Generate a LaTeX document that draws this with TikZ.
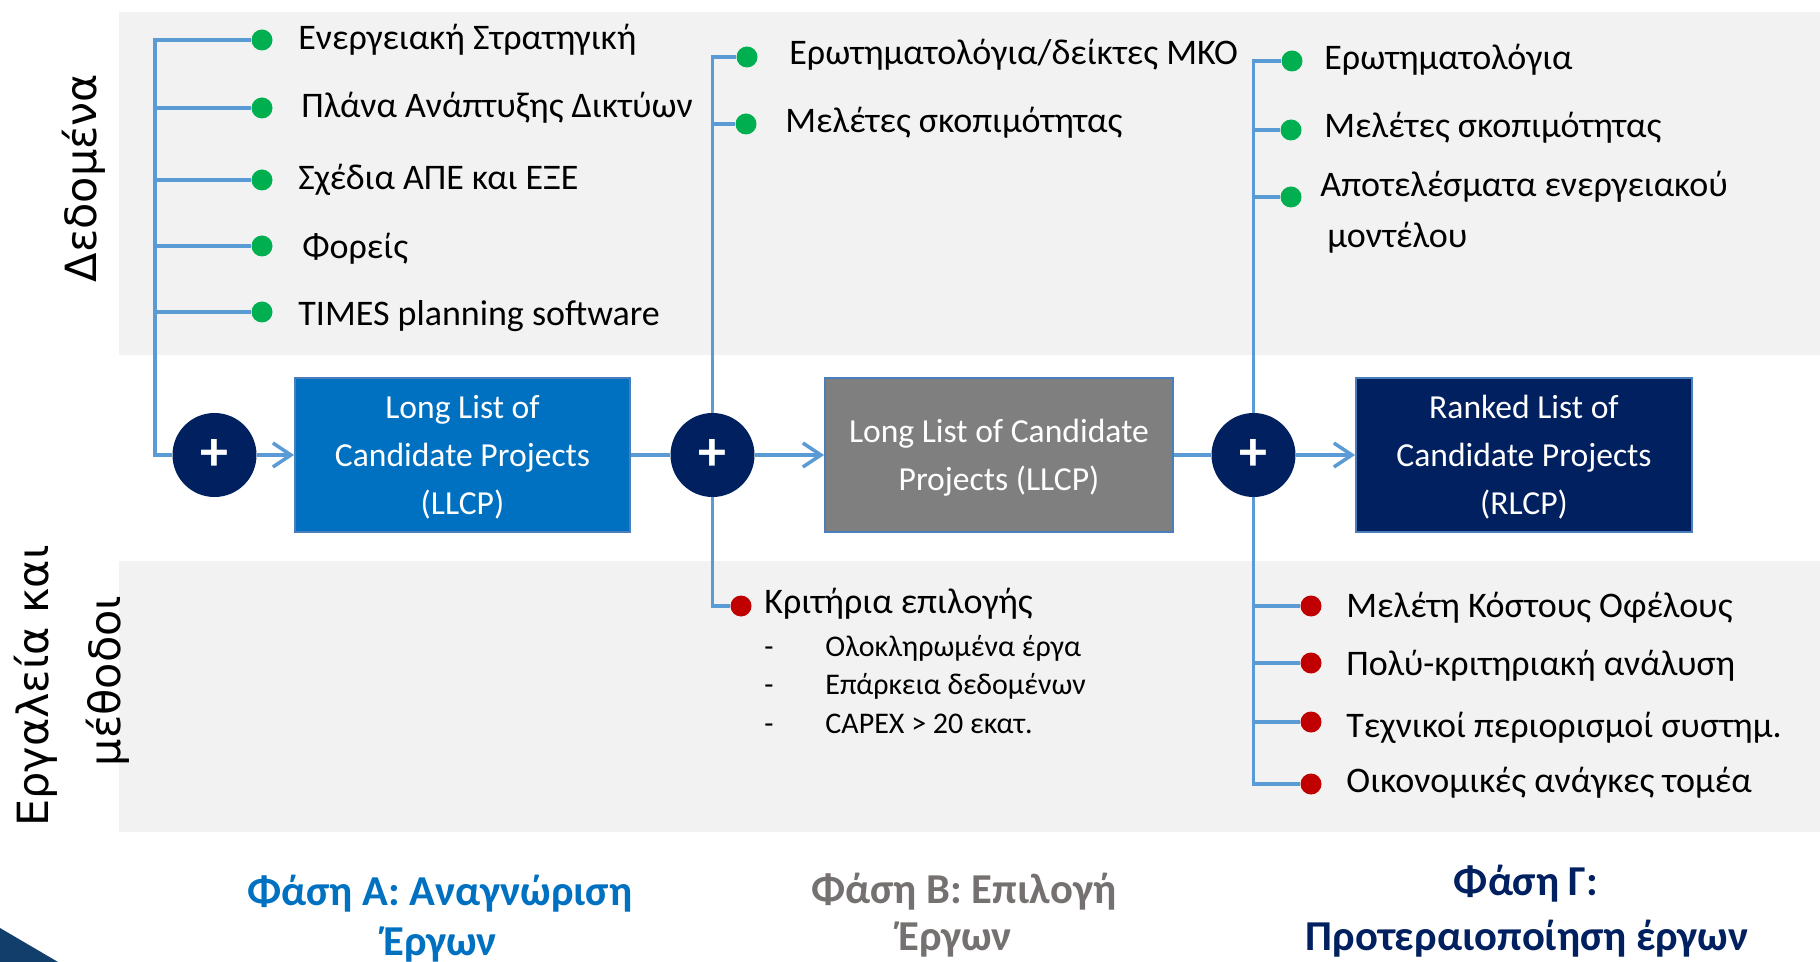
\documentclass[tikz,border=0pt]{standalone}
\usepackage{fontspec}
\setmainfont{Carlito}
\newfontfamily\dejavu{DejaVu Sans}
\usetikzlibrary{arrows.meta}
\definecolor{band}{HTML}{F2F2F2}
\definecolor{lineblue}{HTML}{5B9BD5}
\definecolor{dotgreen}{HTML}{00B050}
\definecolor{dotred}{HTML}{C00000}
\definecolor{navy}{HTML}{002060}
\definecolor{boxblue}{HTML}{0070C0}
\definecolor{boxgray}{HTML}{7F7F7F}
\definecolor{boxedge}{HTML}{4A7EBB}
\definecolor{phasegray}{HTML}{767171}
\definecolor{cornerblue}{HTML}{123E6C}
\begin{document}
\begin{tikzpicture}[x=0.5pt,y=-0.5pt,
  conn/.style={draw=lineblue, line width=1.75pt},
  arr/.style={conn, -{Straight Barb[length=9pt,width=12pt]}},
  gdot/.style={circle, fill=dotgreen, minimum size=10.5pt, inner sep=0pt},
  rdot/.style={circle, fill=dotred, minimum size=10.5pt, inner sep=0pt},
  item/.style={anchor=base west, inner sep=0pt, font=\fontsize{18}{21}\selectfont},
  subitem/.style={anchor=base west, inner sep=0pt, font=\fontsize{15}{18}\selectfont},
  plus/.style={circle, fill=navy, minimum size=42pt, inner sep=0pt, text=white, font=\fontsize{28}{28}\selectfont\bfseries},
  box/.style={draw=boxedge, line width=1pt, align=center, text=white, inner sep=0pt, text depth=0pt, font=\fontsize{16.8}{24}\selectfont},
  side/.style={rotate=90, anchor=base, inner sep=0pt, font=\dejavu\fontsize{21.5}{26}\selectfont},
  phase/.style={anchor=base, inner sep=0pt, font=\fontsize{21.3}{24}\selectfont\bfseries},
]
\useasboundingbox (0,0) rectangle (1820,962);
\fill[white] (0,0) rectangle (1820,962);
\fill[band] (119,12) rectangle (1820,355);
\fill[band] (119,561) rectangle (1820,832);
\fill[cornerblue] (0,928) -- (58,962) -- (0,962) -- cycle;

% main flow nodes
\node[plus] (c1) at (214.5,455) {+};
\node[plus] (c2) at (712.5,455) {+};
\node[plus] (c3) at (1253.5,455) {+};
\node[box, fill=boxblue, minimum width=167.5pt, minimum height=77pt] (b1) at (462.5,455) {Long List of\\Candidate Projects\\(LLCP)};
\node[box, fill=boxgray, minimum width=174pt, minimum height=77pt] (b2) at (999,455) {Long List of Candidate\\Projects (LLCP)};
\node[box, fill=navy, minimum width=168pt, minimum height=77pt] (b3) at (1524,455) {Ranked List of\\Candidate Projects\\(RLCP)};

% dots
\node[gdot] (a1) at (262,40) {};
\node[gdot] (a2) at (262,108) {};
\node[gdot] (a3) at (262,180) {};
\node[gdot] (a4) at (262,246) {};
\node[gdot] (a5) at (262,312) {};
\node[gdot] (m1) at (747,57) {};
\node[gdot] (m2) at (746,124) {};
\node[gdot] (g1) at (1292,61) {};
\node[gdot] (g2) at (1291,130) {};
\node[gdot] (g3) at (1291,197) {};
\node[rdot] (k1) at (741,606) {};
\node[rdot] (r1) at (1311,606) {};
\node[rdot] (r2) at (1311,663) {};
\node[rdot] (r3) at (1311,722) {};
\node[rdot] (r4) at (1311,784) {};
\coordinate (v1) at (155,455);

% connectors
\draw[conn] (a1.west) -| (v1) -- (c1.west);
\foreach \d in {a2,a3,a4,a5} \draw[conn] (\d.west) -- (\d.west -| v1);
\draw[conn] (m1.west) -| (c2.north);
\draw[conn] (m2.west) -- (m2.west -| c2.north);
\draw[conn] (c2.south) |- (k1.west);
\draw[conn] (g1.west) -| (c3.north);
\foreach \d in {g2,g3} \draw[conn] (\d.west) -- (\d.west -| c3.north);
\draw[conn] (c3.south) |- (r4.west);
\foreach \d in {r1,r2,r3} \draw[conn] (\d.west) -- (\d.west -| c3.south);
\draw[arr] (c1.east) -- (b1.west);
\draw[conn] (b1.east) -- (c2.west);
\draw[arr] (c2.east) -- (b2.west);
\draw[conn] (b2.east) -- (c3.west);
\draw[arr] (c3.east) -- (b3.west);

% texts
\node[item] (t1) at (298,50) {Ενεργειακή Στρατηγική};
\node[item] (t2) at (301,118) {Πλάνα Ανάπτυξης Δικτύων};
\node[item] (t3) at (298,190) {Σχέδια ΑΠΕ και ΕΞΕ};
\node[item] (t4) at (302,259) {Φορείς};
\node[item] (t5) at (298,326) {TIMES planning software};
\node[item] (u1) at (789,65) {Ερωτηματολόγια/δείκτες ΜΚΟ};
\node[item] (u2) at (785,133) {Μελέτες σκοπιμότητας};
\node[item] (w1) at (1324,70) {Ερωτηματολόγια};
\node[item] (w2) at (1324,138) {Μελέτες σκοπιμότητας};
\node[item] (w3) at (1320,197) {Αποτελέσματα ενεργειακού};
\node[item] (w4) at (1327,248) {μοντέλου};
\node[item] (kt) at (764,613) {Κριτήρια επιλογής};
\node[subitem] (kd1) at (764,656) {-};
\node[subitem] (ks1) at (825,656) {Ολοκληρωμένα έργα};
\node[subitem] (kd2) at (764,694) {-};
\node[subitem] (ks2) at (825,694) {Επάρκεια δεδομένων};
\node[subitem] (kd3) at (764,733) {-};
\node[subitem] (ks3) at (825,733) {CAPEX > 20 εκατ.};
\node[item] (x1) at (1346,617) {Μελέτη Κόστους Οφέλους};
\node[item] (x2) at (1346,675) {Πολύ-κριτηριακή ανάλυση};
\node[item] (x3) at (1346,737) {Τεχνικοί περιορισμοί συστημ.};
\node[item] (x4) at (1346,792) {Οικονομικές ανάγκες τομέα};

% side labels
\node[side] (sd) at (96,178) {Δεδομένα};
\node[side] (se1) at (48,686) {Εργαλεία και};
\node[side] (se2) at (120,681) {μέθοδοι};

% phase labels
\node[phase, text=boxblue] (pa1) at (440,905) {Φάση Α: Αναγνώριση};
\node[phase, text=boxblue] (pa2) at (440,955) {Έργων};
\node[phase, text=phasegray] (pb1) at (964,903) {Φάση Β: Επιλογή};
\node[phase, text=phasegray] (pb2) at (955,950) {Έργων};
\node[phase, text=navy] (pc1) at (1526,895) {Φάση Γ:};
\node[phase, text=navy] (pc2) at (1527,950) {Προτεραιοποίηση έργων};
\end{tikzpicture}
\end{document}
